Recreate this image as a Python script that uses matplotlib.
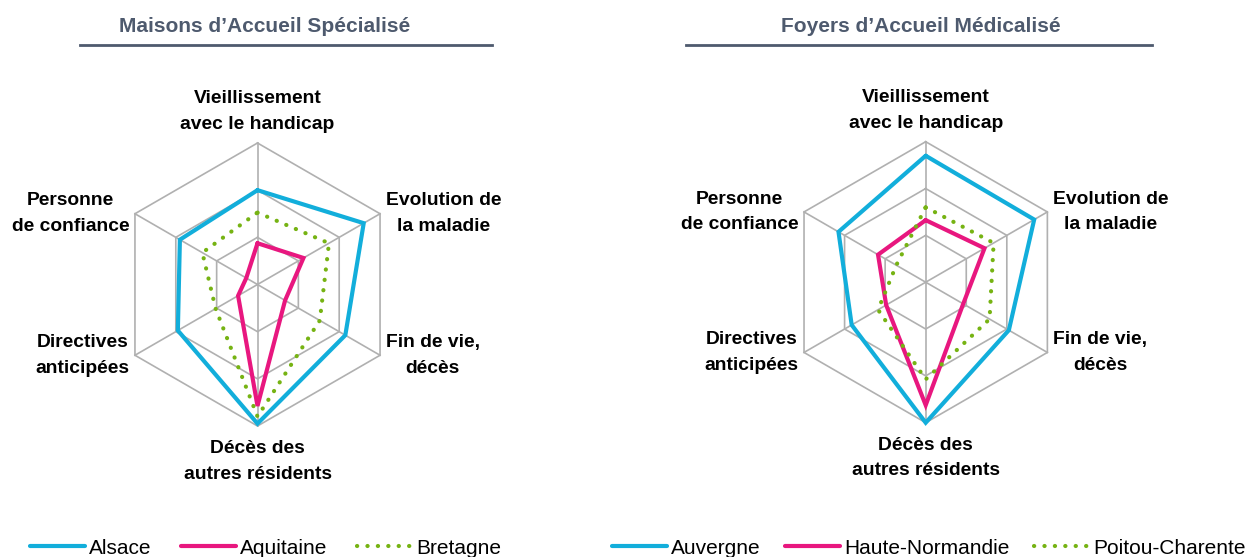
import numpy as np
import matplotlib
matplotlib.use("Agg")
import matplotlib.pyplot as plt
from matplotlib.lines import Line2D

# ---------------- data ----------------
categories = ["Vieillissement\navec le handicap", "Evolution de\nla maladie", "Fin de vie,\ndécès",
              "Décès des\nautres résidents", "Directives\nanticipées", "Personne\nde confiance"]
ring_levels = [20, 40, 60]

mas_title = "Maisons d’Accueil Spécialisé"
mas_names = ["Alsace", "Aquitaine", "Bretagne"]
alsace = [40, 52, 43, 59, 39, 38]
aquitaine = [17.5, 22.5, 13.5, 51.5, 9.5, 5.5]
bretagne = [30.5, 35, 30.5, 56, 20.5, 27]

fam_title = "Foyers d’Accueil Médicalisé"
fam_names = ["Auvergne", "Haute-Normandie", "Poitou-Charente"]
auvergne = [54, 53.5, 41, 60, 36.5, 43]
haute_normandie = [26.5, 29, 18.5, 52.5, 19.5, 23.5]
poitou = [32, 33.5, 31.5, 41.5, 23.5, 14.5]

# ---------------- style ----------------
W, H = 1252, 557
C_BLUE = "#12AEDB"
C_PINK = "#E8177F"
C_GREEN = "#76B313"
C_GRID = "#B0B0B0"
C_TITLE = "#4E5A6E"
LABEL_FONT = ["Liberation Sans", "DejaVu Sans"]
LEGEND_FONT = ["Liberation Sans Narrow", "Liberation Sans", "DejaVu Sans"]

fig = plt.figure(figsize=(W / 100, H / 100), dpi=100)
fig.patch.set_facecolor("white")

n = len(categories)
angles = np.deg2rad(90 - 60 * np.arange(n))
vmax = ring_levels[-1]


def xy(vals):
    v = np.asarray(vals, dtype=float)
    x = v * np.cos(angles)
    y = v * np.sin(angles)
    return np.append(x, x[0]), np.append(y, y[0])


def radar(cx, cy, R, half, title, tx, ux0, ux1, names, series, legx, colsp):
    ax = fig.add_axes([(cx - half) / W, 1 - (cy + half) / H, 2 * half / W, 2 * half / H])
    lim = vmax * half / R
    ax.set_xlim(-lim, lim)
    ax.set_ylim(-lim, lim)
    ax.set_aspect("equal")
    ax.axis("off")
    # grid
    for lvl in ring_levels:
        gx, gy = xy([lvl] * n)
        ax.plot(gx, gy, color=C_GRID, lw=1.2, zorder=1)
    for a in angles:
        ax.plot([0, vmax * np.cos(a)], [0, vmax * np.sin(a)], color=C_GRID, lw=1.2, zorder=1)
    styles = [dict(color=C_BLUE, lw=3.0, solid_capstyle="round", solid_joinstyle="miter"),
              dict(color=C_PINK, lw=3.0, solid_capstyle="round", solid_joinstyle="miter"),
              dict(color=C_GREEN, lw=3.0, linestyle=(0, (0.05, 2.45)), dash_capstyle="round")]
    handles = []
    for vals, st, name in zip(series, styles, names):
        sx, sy = xy(vals)
        h, = ax.plot(sx, sy, zorder=3, label=name, **st)
        handles.append(h)
    # labels
    for k, (lab, a) in enumerate(zip(categories, angles)):
        vx, vy = vmax * np.cos(a), vmax * np.sin(a)
        if k == 0:
            ha, va, off = "center", "bottom", (0, 7)
        elif k == 3:
            ha, va, off = "center", "top", (0, -10)
        elif k in (1, 2):
            ha, va, off = "left", "center", (4, 0)
        else:
            ha, va, off = "right", "center", (-4, 0)
        ax.annotate(lab, xy=(vx, vy), xytext=off, textcoords="offset points",
                    ha=ha, va=va, multialignment="center", fontsize=13.9,
                    fontweight="bold", family=LABEL_FONT, linespacing=1.68,
                    color="black", annotation_clip=False)
    # title
    fig.text(tx / W, 1 - 27 / H, title, ha="center", va="center", fontsize=15,
             fontweight="bold", color=C_TITLE, family=LABEL_FONT)
    fig.add_artist(Line2D([ux0 / W, ux1 / W], [1 - 45 / H, 1 - 45 / H],
                          color=C_TITLE, lw=2.0, transform=fig.transFigure))
    # legend
    ax.legend(handles=handles, labels=names, loc="center left",
              bbox_to_anchor=(legx / W, 1 - 548 / H), bbox_transform=fig.transFigure,
              ncol=3, frameon=False, handlelength=2.65, handletextpad=0.2,
              columnspacing=colsp, borderpad=0, borderaxespad=0,
              prop=dict(family=LEGEND_FONT, size=15))
    return ax


radar(257.5, 284.5, 141.5, 175, mas_title, 265, 80, 492, mas_names,
      [alsace, aquitaine, bretagne], 30, 1.4)
radar(925.7, 282.2, 140.5, 175, fam_title, 921, 686, 1152, fam_names,
      [auvergne, haute_normandie, poitou], 612, 1.15)

fig.savefig("out.png", dpi=100, facecolor="white")
